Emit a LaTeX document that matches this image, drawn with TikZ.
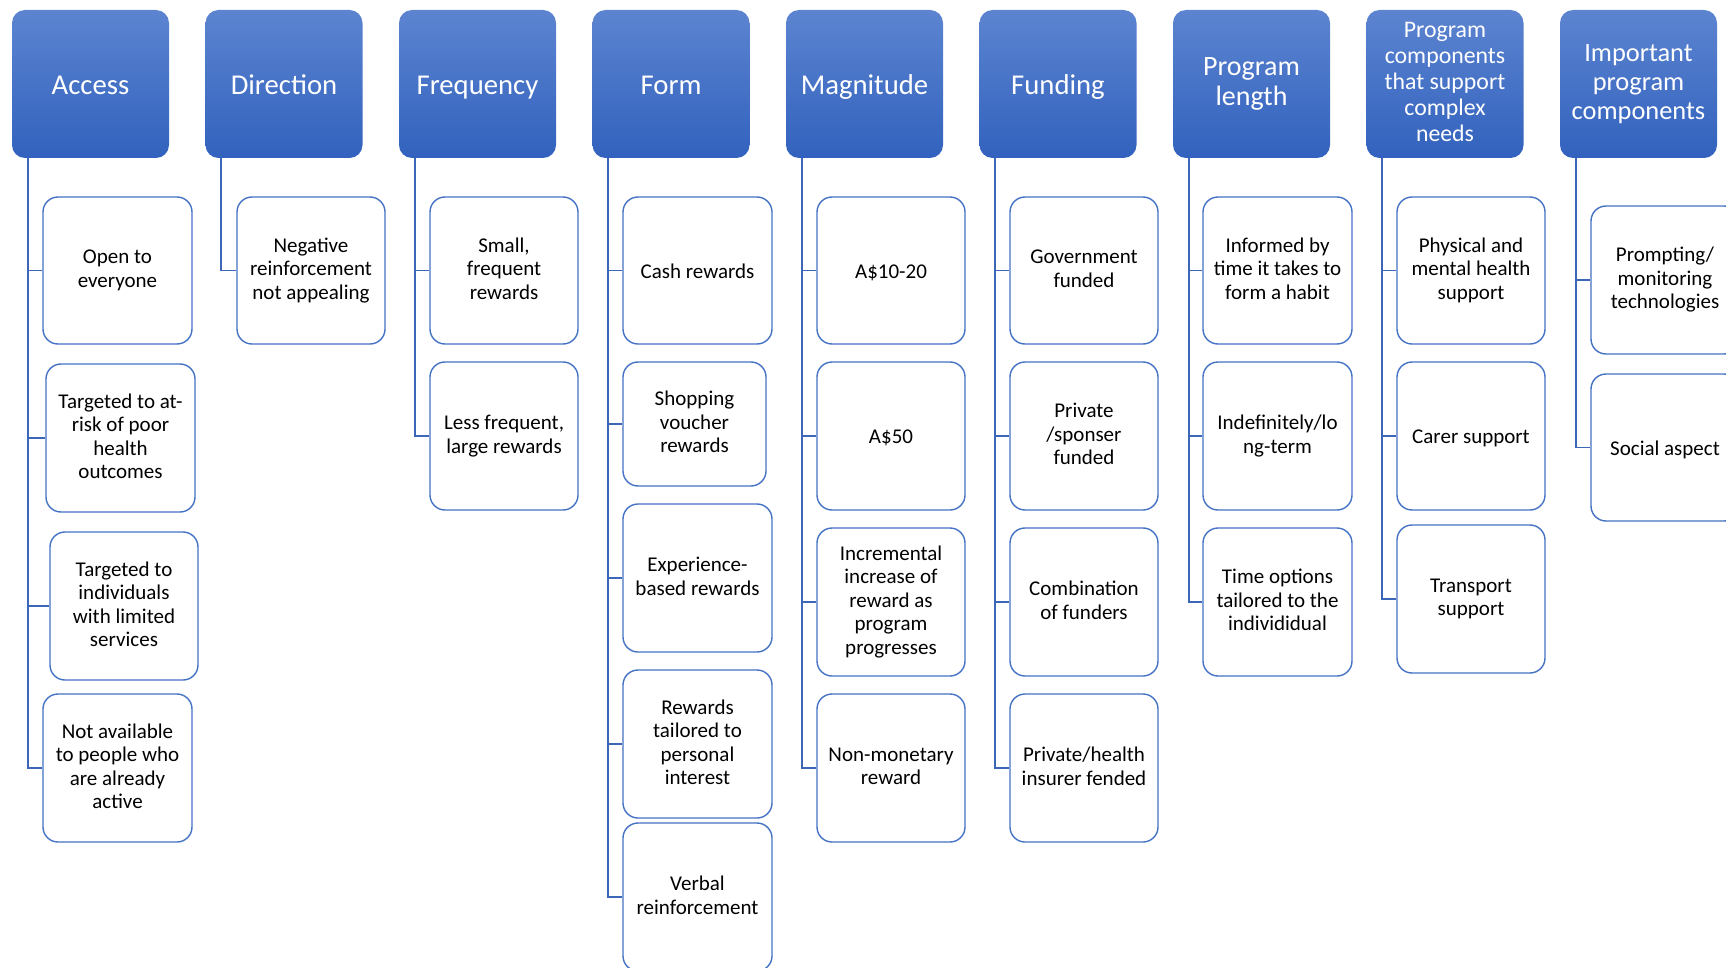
\documentclass[tikz,border=0pt]{standalone}
\usepackage{fontspec}
\setmainfont{Carlito}
\definecolor{boxblue}{RGB}{68,114,196}
\definecolor{lineblue}{RGB}{60,102,184}
\definecolor{hdtop}{RGB}{92,132,208}
\definecolor{hdbot}{RGB}{50,98,190}
\newcommand\mystrut{\rule[-0.16\baselineskip]{0pt}{\baselineskip}}
\begin{document}
\begin{tikzpicture}[x=1pt,y=-1pt,
  hdr/.style={rounded corners=13pt, top color=hdtop, bottom color=hdbot, draw=none,
    minimum width=157pt, minimum height=148pt, inner sep=0pt, align=center,
    text=white, font={\fontsize{28.7}{31}\selectfont},
    execute at begin node=\mystrut, execute at end node=\mystrut},
  leaf/.style={rounded corners=15pt, draw=boxblue, line width=1.4pt, fill=white,
    minimum width=148pt, minimum height=147pt, inner sep=0pt, align=center,
    text=black, font={\fontsize{21}{23.5}\selectfont},
    execute at begin node=\mystrut, execute at end node=\mystrut},
  conn/.style={draw=lineblue, line width=1.8pt}]
\useasboundingbox (0,0) rectangle (1726,968);
\clip (0,0) rectangle (1726,968);
% headers
\node[hdr] (hA) at (90.5,84) {Access};
\node[hdr] (hD) at (284,84) {Direction};
\node[hdr] (hF) at (477.5,84) {Frequency};
\node[hdr] (hFo) at (671,84) {Form};
\node[hdr] (hM) at (864.5,84) {Magnitude};
\node[hdr] (hFu) at (1058,84) {Funding};
\node[hdr, font={\fontsize{28}{30.5}\selectfont}] (hP) at (1251.5,84) {Program\\length};
\node[hdr, font={\fontsize{23.8}{26}\selectfont}] (hC) at (1445,84) {Program\\components\\that support\\complex\\needs};
\node[hdr, font={\fontsize{26.4}{29}\selectfont}] (hI) at (1638.5,84) {Important\\program\\components};
% trunk coordinates
\foreach \h in {hA,hD,hF,hFo,hM,hFu,hP,hC,hI}{
  \coordinate (t\h) at ([xshift=16pt]\h.south west);
}
% Access
\node[leaf, minimum width=149pt] (A1) at (117.5,270.5) {Open to\\everyone};
\node[leaf, minimum width=149pt, minimum height=148pt] (A2) at (120.5,438) {Targeted to at-\\risk of poor\\health\\outcomes};
\node[leaf, minimum height=148pt] (A3) at (124,606) {Targeted to\\individuals\\with limited\\services};
\node[leaf, minimum width=149pt, minimum height=148pt] (A4) at (117.5,768) {Not available\\to people who\\are already\\active};
% Direction
\node[leaf] (D1) at (311,270.5) {Negative\\reinforcement\\not appealing};
% Frequency
\node[leaf] (F1) at (504,270.5) {Small,\\frequent\\rewards};
\node[leaf, minimum height=148pt] (F2) at (504,436) {Less frequent,\\large rewards};
% Form
\node[leaf, minimum width=149pt] (Fo1) at (697.5,270.5) {Cash rewards};
\node[leaf, minimum width=143pt, minimum height=124pt] (Fo2) at (694.5,424) {Shopping\\voucher\\rewards};
\node[leaf, minimum width=149pt, minimum height=148pt] (Fo3) at (697.5,578) {Experience-\\based rewards};
\node[leaf, minimum width=149pt, minimum height=148pt] (Fo4) at (697.5,744) {Rewards\\tailored to\\personal\\interest};
\node[leaf, minimum width=149pt, minimum height=148pt] (Fo5) at (697.5,897) {Verbal\\reinforcement};
% Magnitude
\node[leaf] (M1) at (891,270.5) {A\$10-20};
\node[leaf, minimum height=148pt] (M2) at (891,436) {A\$50};
\node[leaf, minimum height=148pt] (M3) at (891,602) {Incremental\\increase of\\reward as\\program\\progresses};
\node[leaf, minimum height=148pt] (M4) at (891,768) {Non-monetary\\reward};
% Funding
\node[leaf] (Fu1) at (1084,270.5) {Government\\funded};
\node[leaf, minimum height=148pt] (Fu2) at (1084,436) {Private\\/sponser\\funded};
\node[leaf, minimum height=148pt] (Fu3) at (1084,602) {Combination\\of funders};
\node[leaf, minimum height=148pt] (Fu4) at (1084,768) {Private/health\\insurer fended};
% Program length
\node[leaf, minimum width=149pt] (P1) at (1277.5,270.5) {Informed by\\time it takes to\\form a habit};
\node[leaf, minimum width=149pt, minimum height=148pt] (P2) at (1277.5,436) {Indefinitely/lo\\ng-term};
\node[leaf, minimum width=149pt, minimum height=148pt] (P3) at (1277.5,602) {Time options\\tailored to the\\individidual};
% Program components
\node[leaf] (C1) at (1471,270.5) {Physical and\\mental health\\support};
\node[leaf, minimum height=148pt] (C2) at (1471,436) {Carer support};
\node[leaf, minimum height=148pt] (C3) at (1471,599) {Transport\\support};
% Important
\node[leaf, minimum height=148pt] (I1) at (1665,280) {Prompting/\\monitoring\\technologies};
\node[leaf] (I2) at (1665,447.5) {Social aspect};
% connectors
\foreach \c in {A1,A2,A3,A4}{\draw[conn] (thA) |- (\c.west);}
\foreach \c in {D1}{\draw[conn] (thD) |- (\c.west);}
\foreach \c in {F1,F2}{\draw[conn] (thF) |- (\c.west);}
\foreach \c in {Fo1,Fo2,Fo3,Fo4,Fo5}{\draw[conn] (thFo) |- (\c.west);}
\foreach \c in {M1,M2,M3,M4}{\draw[conn] (thM) |- (\c.west);}
\foreach \c in {Fu1,Fu2,Fu3,Fu4}{\draw[conn] (thFu) |- (\c.west);}
\foreach \c in {P1,P2,P3}{\draw[conn] (thP) |- (\c.west);}
\foreach \c in {C1,C2,C3}{\draw[conn] (thC) |- (\c.west);}
\foreach \c in {I1,I2}{\draw[conn] (thI) |- (\c.west);}
\end{tikzpicture}
\end{document}
